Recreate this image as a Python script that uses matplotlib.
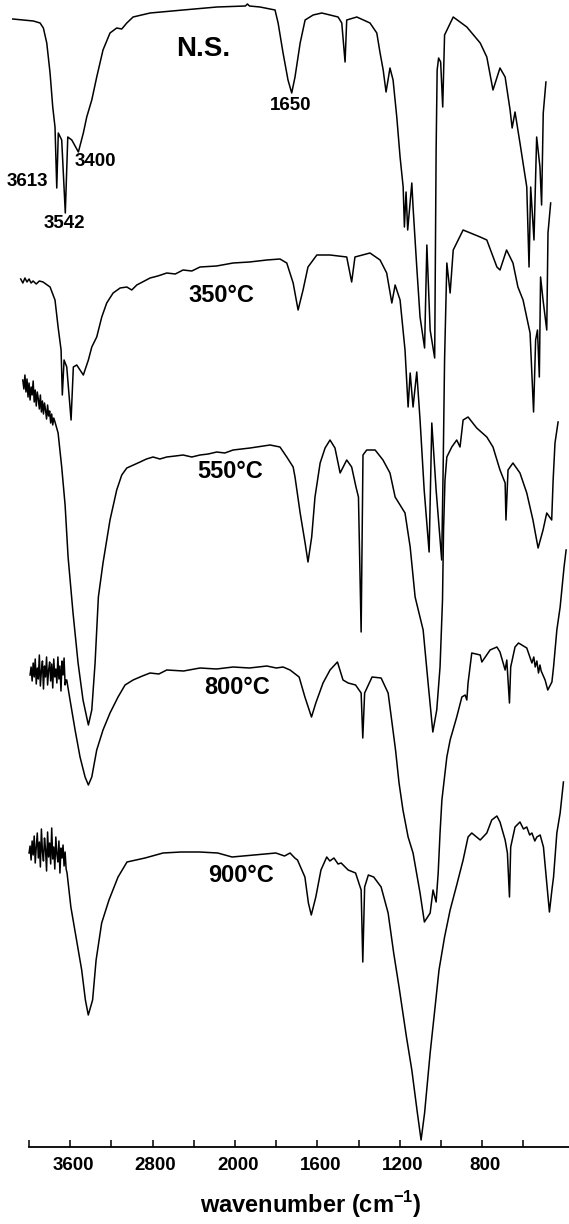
import numpy as np
import matplotlib
matplotlib.use("Agg")
import matplotlib.pyplot as plt
import matplotlib.transforms as mtransforms

plt.rcParams['font.family'] = ['Liberation Sans', 'DejaVu Sans']
plt.rcParams['mathtext.fontset'] = 'custom'
plt.rcParams['mathtext.rm'] = 'Liberation Sans:bold'
plt.rcParams['mathtext.bf'] = 'Liberation Sans:bold'

# (wavenumber cm-1, trace height), one list per sample
ns_spec = [
    (4158, 1128), (3958, 1126), (3893, 1124), (3861, 1119), (3828, 1104), (3796, 1074),
    (3770, 1040), (3748, 1020), (3731, 959), (3716, 1014), (3683, 1007), (3648, 934),
    (3624, 1010), (3585, 1007), (3521, 995), (3473, 1014), (3440, 1030), (3391, 1047),
    (3343, 1070), (3282, 1097), (3214, 1114), (3149, 1119), (3100, 1118), (3051, 1124),
    (2990, 1130), (2825, 1134), (2505, 1137), (2175, 1140), (1950, 1141), (1940, 1143),
    (1930, 1141), (1879, 1140), (1806, 1137), (1791, 1124), (1767, 1094), (1743, 1067),
    (1725, 1054), (1709, 1070), (1684, 1104), (1660, 1127), (1621, 1132), (1579, 1134),
    (1539, 1132), (1500, 1130), (1482, 1124), (1466, 1085), (1458, 1127), (1409, 1130),
    (1345, 1124), (1312, 1114), (1296, 1094), (1281, 1077), (1267, 1055), (1248, 1079),
    (1233, 1067), (1215, 1030), (1199, 990), (1184, 960), (1178, 920), (1170, 955),
    (1162, 917), (1142, 964), (1136, 940), (1118, 880), (1102, 830), (1080, 799),
    (1069, 902), (1053, 817), (1031, 789), (1024, 997), (1019, 1077), (1012, 1089),
    (1002, 1085), (992, 1040), (983, 1112), (941, 1130), (875, 1120), (810, 1104),
    (778, 1090), (748, 1057), (714, 1079), (689, 1070), (665, 1037), (655, 1019),
    (641, 1035), (617, 1004), (584, 960), (573, 880), (565, 960), (549, 907),
    (536, 1010), (520, 980), (512, 942), (504, 1034), (491, 1065),
]

s350_spec = [
    (4081, 868), (4060, 864), (4040, 869), (4020, 865), (4000, 868), (3980, 864),
    (3961, 866), (3930, 863), (3900, 866), (3864, 865), (3796, 860), (3748, 847),
    (3718, 820), (3689, 797), (3677, 752), (3660, 787), (3634, 780), (3592, 727),
    (3570, 780), (3537, 782), (3473, 772), (3424, 787), (3391, 800), (3343, 810),
    (3294, 830), (3246, 844), (3184, 854), (3116, 859), (3051, 860), (3003, 857),
    (2954, 862), (2825, 869), (2750, 871), (2663, 874), (2580, 873), (2505, 877),
    (2420, 876), (2340, 880), (2180, 881), (2019, 884), (1930, 885), (1846, 887),
    (1782, 888), (1749, 884), (1718, 864), (1694, 837), (1670, 857), (1646, 880),
    (1603, 892), (1539, 892), (1458, 890), (1434, 865), (1418, 890), (1345, 894),
    (1296, 887), (1264, 874), (1239, 844), (1223, 862), (1199, 847), (1175, 797),
    (1160, 740), (1150, 774), (1136, 740), (1118, 775), (1102, 727), (1082, 657),
    (1058, 595), (1045, 724), (1024, 657), (997, 587), (990, 677), (983, 787),
    (972, 884), (956, 854), (941, 897), (893, 917), (810, 910), (778, 907),
    (729, 880), (714, 877), (682, 897), (651, 884), (627, 860), (602, 847),
    (568, 814), (551, 735), (541, 807), (532, 817), (523, 770), (517, 870),
    (505, 847), (487, 817), (481, 914), (468, 944),
]

s550_spec = [
    (4061, 767), (4050, 758), (4040, 772), (4030, 755), (4020, 768), (4010, 750),
    (4000, 764), (3990, 747), (3980, 760), (3970, 752), (3960, 766), (3950, 745),
    (3940, 757), (3930, 741), (3920, 755), (3910, 748), (3900, 738), (3890, 752),
    (3880, 735), (3870, 746), (3860, 733), (3850, 744), (3840, 737), (3830, 728),
    (3820, 742), (3810, 731), (3800, 736), (3790, 724), (3780, 733), (3770, 722),
    (3760, 729), (3748, 725), (3718, 714), (3683, 680), (3650, 642), (3621, 590),
    (3573, 534), (3524, 484), (3476, 447), (3424, 422), (3391, 437), (3359, 484),
    (3327, 550), (3282, 584), (3214, 627), (3149, 657), (3100, 672), (3051, 679),
    (2922, 685), (2860, 688), (2796, 690), (2730, 688), (2663, 690), (2580, 691),
    (2505, 692), (2420, 690), (2340, 692), (2260, 693), (2178, 695), (2100, 694),
    (2019, 697), (1927, 699), (1830, 702), (1782, 700), (1749, 690), (1718, 680),
    (1709, 670), (1684, 634), (1660, 604), (1646, 585), (1628, 610), (1612, 650),
    (1587, 684), (1563, 699), (1539, 707), (1515, 699), (1490, 674), (1458, 687),
    (1434, 680), (1413, 660), (1401, 650), (1388, 515), (1379, 692), (1361, 697),
    (1320, 697), (1282, 687), (1248, 674), (1223, 650), (1175, 634), (1150, 600),
    (1126, 550), (1087, 517), (1063, 464), (1040, 415), (1021, 437), (1005, 480),
    (993, 547), (988, 617), (981, 667), (972, 690), (948, 700), (924, 707),
    (908, 700), (893, 727), (869, 730), (827, 719), (778, 710), (748, 700),
    (714, 677), (689, 664), (685, 627), (675, 677), (651, 684), (617, 674),
    (584, 654), (554, 627), (529, 599), (505, 617), (487, 634), (463, 627),
    (456, 667), (447, 704), (432, 725),
]

s800_spec = [
    (3990, 472), (3980, 480), (3970, 466), (3960, 484), (3950, 470), (3940, 488),
    (3930, 463), (3920, 479), (3910, 468), (3900, 492), (3890, 461), (3880, 476),
    (3870, 486), (3860, 458), (3850, 481), (3840, 470), (3830, 490), (3820, 462),
    (3810, 477), (3800, 485), (3790, 466), (3780, 483), (3770, 459), (3760, 488),
    (3750, 470), (3740, 478), (3730, 464), (3720, 490), (3710, 468), (3700, 481),
    (3690, 456), (3680, 486), (3670, 472), (3660, 489), (3650, 462), (3641, 467),
    (3634, 467), (3602, 447), (3553, 417), (3505, 390), (3456, 370), (3424, 362),
    (3391, 370), (3343, 397), (3282, 417), (3214, 434), (3136, 450), (3068, 462),
    (2990, 467), (2900, 471), (2825, 474), (2740, 473), (2663, 477), (2500, 476),
    (2340, 479), (2180, 478), (2019, 480), (1930, 479), (1846, 481), (1800, 479),
    (1767, 480), (1733, 477), (1689, 470), (1661, 450), (1629, 430), (1608, 444),
    (1573, 464), (1539, 477), (1503, 485), (1476, 467), (1451, 464), (1415, 462),
    (1388, 454), (1380, 409), (1371, 454), (1335, 470), (1291, 469), (1257, 454),
    (1238, 424), (1221, 397), (1204, 364), (1185, 337), (1160, 310), (1136, 294),
    (1102, 254), (1081, 225), (1053, 234), (1039, 257), (1024, 245), (1014, 274),
    (1005, 314), (996, 347), (972, 390), (956, 407), (924, 430), (899, 450),
    (883, 452), (875, 447), (869, 464), (851, 494), (810, 492), (802, 485),
    (762, 497), (729, 500), (714, 495), (689, 477), (681, 487), (668, 444),
    (662, 480), (641, 500), (624, 504), (584, 499), (559, 484), (550, 490),
    (543, 480), (535, 486), (527, 474), (520, 482), (514, 476), (495, 467),
    (482, 457), (462, 465), (454, 480), (438, 517), (422, 540), (403, 580),
    (393, 597),
]

s900_spec = [
    (4000, 294), (3990, 301), (3980, 287), (3970, 306), (3960, 292), (3950, 311),
    (3940, 284), (3930, 300), (3920, 314), (3910, 289), (3900, 305), (3890, 280),
    (3880, 318), (3870, 295), (3860, 286), (3850, 309), (3840, 298), (3830, 276),
    (3820, 315), (3810, 290), (3800, 304), (3790, 283), (3780, 319), (3770, 288),
    (3760, 300), (3750, 278), (3740, 310), (3730, 293), (3720, 285), (3710, 306),
    (3700, 274), (3690, 299), (3680, 289), (3670, 302), (3660, 281), (3650, 295),
    (3640, 278), (3631, 274), (3594, 240), (3544, 210), (3489, 177), (3453, 147),
    (3425, 132), (3383, 147), (3349, 187), (3295, 224), (3224, 247), (3136, 270),
    (3049, 285), (2874, 289), (2699, 294), (2524, 295), (2344, 295), (2168, 294),
    (2029, 290), (1908, 292), (1802, 294), (1760, 291), (1733, 294), (1710, 289),
    (1697, 287), (1661, 270), (1644, 244), (1630, 232), (1608, 250), (1583, 277),
    (1555, 290), (1540, 286), (1520, 289), (1500, 283), (1485, 284), (1451, 277),
    (1415, 274), (1388, 257), (1380, 185), (1371, 260), (1353, 272), (1327, 270),
    (1291, 260), (1257, 234), (1230, 194), (1204, 160), (1168, 110), (1142, 77),
    (1115, 34), (1097, 7), (1080, 34), (1053, 94), (1027, 144), (1010, 177),
    (983, 210), (956, 237), (924, 262), (893, 287), (869, 310), (851, 314),
    (810, 307), (778, 314), (754, 327), (729, 331), (714, 325), (689, 307),
    (678, 294), (668, 250), (662, 300), (641, 320), (617, 325), (600, 318),
    (584, 320), (570, 312), (559, 314), (545, 306), (535, 310), (519, 312),
    (503, 300), (487, 264), (474, 235), (462, 257), (454, 270), (438, 314),
    (422, 334), (406, 365),
]

spectra = [ns_spec, s350_spec, s550_spec, s800_spec, s900_spec]

# sample labels: text, wavenumber, height, size
sample_labels = [
    ("N.S.", 2311, 1098, 20),
    ("350°C", 2136, 852, 17),
    ("550°C", 2049, 675, 17),
    ("800°C", 1990, 459, 17),
    ("900°C", 1971, 271, 17),
]
peak_labels = [
    ("3613", 4019, 965),
    ("3542", 3660, 924),
    ("3400", 3354, 985),
    ("1650", 1728, 1042),
]

tick_values = [4000, 3600, 3200, 2800, 2400, 2000, 1800, 1600, 1400, 1200, 1000, 800, 600]
tick_text = ["", "3600", "", "2800", "", "2000", "", "1600", "", "1200", "", "800", ""]


# wavenumber axis: 400 cm-1 per division above 2000, 200 cm-1 below
def fwd(w):
    w = np.asarray(w, dtype=float)
    return np.where(w <= 2000, 2 * w, w + 2000)


def inv(v):
    v = np.asarray(v, dtype=float)
    return np.where(v <= 4000, v / 2, v - 2000)


fig = plt.figure(figsize=(5.69, 12.24), dpi=100)
ax = fig.add_axes([0, 77 / 1224, 1, 1147 / 1224])
ax.set_xscale('function', functions=(fwd, inv))

for spec in spectra:
    wn, t = np.array(spec, dtype=float).T
    ax.plot(wn, t, color='black', lw=1.1, solid_joinstyle='round')

for txt, x, y, fs in sample_labels:
    ax.text(x, y, txt, fontsize=fs, fontweight='bold', ha='center', va='center')
for txt, x, y in peak_labels:
    ax.text(x, y, txt, fontsize=13.5, fontweight='bold', ha='center', va='center')

ax.set_xlim(4282, 379)
ax.set_ylim(0, 1147)
ax.set_xticks(tick_values)
ax.set_xticklabels(tick_text)
ax.tick_params(axis='x', direction='in', length=5, width=1.1, pad=7, labelsize=13.5)
for lab in ax.get_xticklabels():
    lab.set_fontweight('bold')
    lab.set_transform(lab.get_transform() + mtransforms.ScaledTranslation(0.03, 0, fig.dpi_scale_trans))
ax.set_yticks([])
for side in ['left', 'right', 'top']:
    ax.spines[side].set_visible(False)
ax.spines['bottom'].set_linewidth(1.3)
ax.spines['bottom'].set_bounds(4000, 379)

fig.text(311 / 569, 1 - 1205 / 1224, "wavenumber (cm$^{-1}$)", fontsize=17,
         fontweight='bold', ha='center', va='center')

fig.savefig("out.png", dpi=100)
